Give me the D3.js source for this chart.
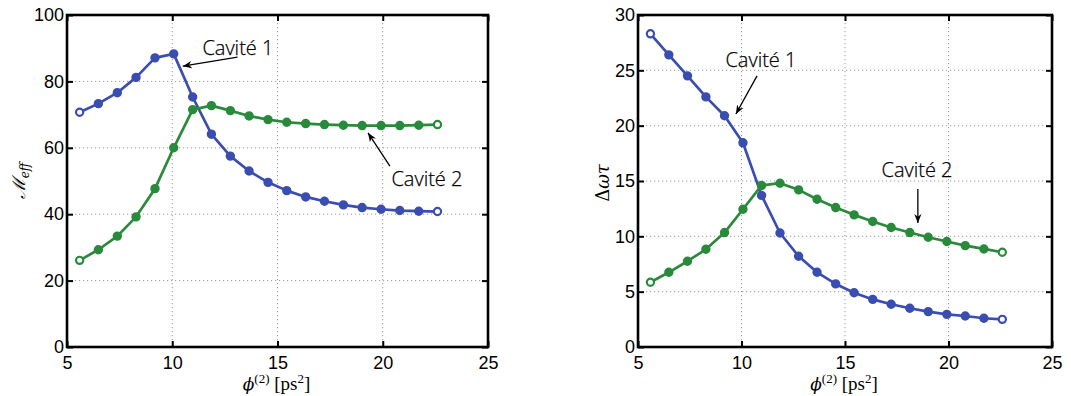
<!DOCTYPE html>
<html><head><meta charset="utf-8">
<script src="https://cdn.jsdelivr.net/npm/d3@7"></script>
<style>
body{margin:0;background:#fff;}
svg{display:block;}
.tick text{font-family:"Liberation Sans",Arial,sans-serif;font-size:18px;fill:#000;}
</style></head>
<body>
<svg id="c" width="1071" height="396"></svg>
<script>
// ---- data ----
const phi = [5.60, 6.49, 7.39, 8.28, 9.18, 10.07, 10.97, 11.86, 12.76, 13.65, 14.55, 15.44, 16.34, 17.23, 18.13, 19.02, 19.92, 20.81, 21.71, 22.60];
const meffCav1 = [70.7, 73.3, 76.6, 81.2, 87.1, 88.3, 75.3, 64.1, 57.5, 53.0, 49.6, 47.1, 45.2, 43.9, 42.8, 42.0, 41.5, 41.1, 40.9, 40.8];
const meffCav2 = [26.1, 29.3, 33.4, 39.2, 47.7, 60.0, 71.5, 72.7, 71.2, 69.6, 68.5, 67.7, 67.3, 67.0, 66.8, 66.7, 66.7, 66.7, 66.8, 67.0];
const dwtCav1 = [28.3, 26.4, 24.5, 22.6, 20.9, 18.45, 13.7, 10.3, 8.2, 6.75, 5.7, 4.9, 4.3, 3.86, 3.5, 3.2, 2.95, 2.8, 2.6, 2.5];
const dwtCav2 = [5.85, 6.75, 7.75, 8.83, 10.34, 12.45, 14.6, 14.8, 14.2, 13.35, 12.6, 11.94, 11.34, 10.8, 10.34, 9.92, 9.53, 9.16, 8.86, 8.56];
const xTicks = [5, 10, 15, 20, 25];
const yTicksLeft = [0, 20, 40, 60, 80, 100];
const yTicksRight = [0, 5, 10, 15, 20, 25, 30];
const seriesNames = ["Cavité 1", "Cavité 2"];
// annotations (data units): text anchor point, arrow start, arrow end
const annLeft = [
  {label: "Cavité 1", tx: 13.12, ty: 88.0, x1: 13.1, y1: 87.3, x2: 10.5, y2: 84.6},
  {label: "Cavité 2", tx: 22.1, ty: 48.5, x1: 20.34, y1: 54.5, x2: 19.3, y2: 64.5}
];
const annRight = [
  {label: "Cavité 1", tx: 10.94, ty: 25.3, x1: 10.75, y1: 24.5, x2: 9.73, y2: 21.05},
  {label: "Cavité 2", tx: 18.48, ty: 15.36, x1: 18.52, y1: 14.27, x2: 18.52, y2: 11.2}
];

const colors = ["#3a4db0", "#2a8a3c"];
const svg = d3.select("#c");
const defs = svg.append("defs");
defs.append("marker").attr("id","ah").attr("viewBox","0 0 10 10").attr("refX",10).attr("refY",5)
  .attr("markerWidth",9).attr("markerHeight",9).attr("markerUnits","userSpaceOnUse").attr("orient","auto")
  .append("path").attr("d","M0,1 L10,5 L0,9 L3,5 Z").attr("fill","#000");

function panel(opts){
  const {left,right,top,bottom,yDomain,yTicks,s1,s2,ann,ylabel} = opts;
  const x = d3.scaleLinear().domain([5,25]).range([left,right]);
  const y = d3.scaleLinear().domain(yDomain).range([bottom,top]);
  const g = svg.append("g");
  // grid
  g.append("g").selectAll("line").data(xTicks.slice(1,-1)).join("line")
    .attr("x1",d=>x(d)).attr("x2",d=>x(d)).attr("y1",top).attr("y2",bottom)
    .attr("stroke","#999").attr("stroke-width",1).attr("stroke-dasharray","1.2,2.8");
  g.append("g").selectAll("line").data(yTicks.slice(1,-1)).join("line")
    .attr("y1",d=>y(d)).attr("y2",d=>y(d)).attr("x1",left).attr("x2",right)
    .attr("stroke","#999").attr("stroke-width",1).attr("stroke-dasharray","1.2,2.8");
  // axes
  const ax = g.append("g").attr("transform",`translate(0,${bottom})`)
    .call(d3.axisBottom(x).tickValues(xTicks).tickSize(-6).tickPadding(9).tickFormat(d3.format("d")));
  const axT = g.append("g").attr("transform",`translate(0,${top})`)
    .call(d3.axisTop(x).tickValues(xTicks).tickSize(-6).tickFormat(""));
  const ay = g.append("g").attr("transform",`translate(${left},0)`)
    .call(d3.axisLeft(y).tickValues(yTicks).tickSize(-6).tickPadding(3).tickFormat(d3.format("d")));
  const ayR = g.append("g").attr("transform",`translate(${right},0)`)
    .call(d3.axisRight(y).tickValues(yTicks).tickSize(-6).tickFormat(""));
  [ax,axT,ay,ayR].forEach(a=>{a.select(".domain").remove();a.selectAll(".tick line").attr("stroke","#000").attr("stroke-width",2);});
  // series
  [s1,s2].forEach((s,i)=>{
    const pts = phi.map((p,j)=>[p,s[j],j]);
    g.append("path").datum(pts).attr("fill","none").attr("stroke",colors[i]).attr("stroke-width",2.7)
      .attr("stroke-linejoin","round")
      .attr("d",d3.line().x(d=>x(d[0])).y(d=>y(d[1])));
    g.append("g").selectAll("circle").data(pts).join("circle")
      .attr("cx",d=>x(d[0])).attr("cy",d=>y(d[1])).attr("r",3.6)
      .attr("fill",d=>(d[2]===0||d[2]===pts.length-1)?"#fff":colors[i])
      .attr("stroke",colors[i]).attr("stroke-width",2.2);
  });
  // box
  g.append("rect").attr("x",left).attr("y",top).attr("width",right-left).attr("height",bottom-top)
    .attr("fill","none").attr("stroke","#000").attr("stroke-width",2.6);
  // annotations
  ann.forEach(a=>{
    g.append("line").attr("x1",x(a.x1)).attr("y1",y(a.y1)).attr("x2",x(a.x2)).attr("y2",y(a.y2))
      .attr("stroke","#000").attr("stroke-width",1.3).attr("marker-end","url(#ah)");
    g.append("text").attr("x",x(a.tx)).attr("y",y(a.ty)).attr("text-anchor","middle")
      .attr("font-family","'Open Sans', 'Noto Sans', sans-serif").attr("font-weight",300)
      .attr("font-size",20).attr("fill","#000").attr("stroke","#000").attr("stroke-width",0.25).text(a.label);
  });
  // x label
  const xl = g.append("text").attr("x",(left+right)/2 - 1).attr("y",390).attr("text-anchor","middle")
    .attr("font-family","'Liberation Serif',serif").attr("font-size",19).attr("fill","#000");
  xl.append("tspan").attr("font-style","italic").attr("font-family","'DejaVu Serif',serif").attr("font-size",17).text("ϕ");
  xl.append("tspan").attr("dy",-7).attr("font-size",13).text("(2)");
  xl.append("tspan").attr("dy",7).text(" [ps");
  xl.append("tspan").attr("dy",-7).attr("font-size",13).text("2");
  xl.append("tspan").attr("dy",7).text("]");
  // y label
  const yl = g.append("text").attr("transform",`translate(${ylabel.x},${ylabel.y}) rotate(-90)`)
    .attr("text-anchor","middle").attr("font-family","'DejaVu Serif','Liberation Serif',serif")
    .attr("font-size",18).attr("fill","#000");
  ylabel.parts.forEach(p=>{
    const t = yl.append("tspan").text(p.t);
    if(p.it) t.attr("font-style","italic");
    if(p.sub) t.attr("dy",4).attr("font-size",12);
  });
  return {x,y};
}

panel({left:67,right:488,top:15,bottom:347,yDomain:[0,100],yTicks:yTicksLeft,
  s1:meffCav1,s2:meffCav2,ann:annLeft,
  ylabel:{x:25,y:181,parts:[{t:"ℳ",it:true},{t:"eff",it:true,sub:true}]}});
panel({left:638,right:1052,top:15,bottom:347,yDomain:[0,30],yTicks:yTicksRight,
  s1:dwtCav1,s2:dwtCav2,ann:annRight,
  ylabel:{x:609,y:183,parts:[{t:"Δ"},{t:"ωτ",it:true}]}});
</script>
</body></html>
